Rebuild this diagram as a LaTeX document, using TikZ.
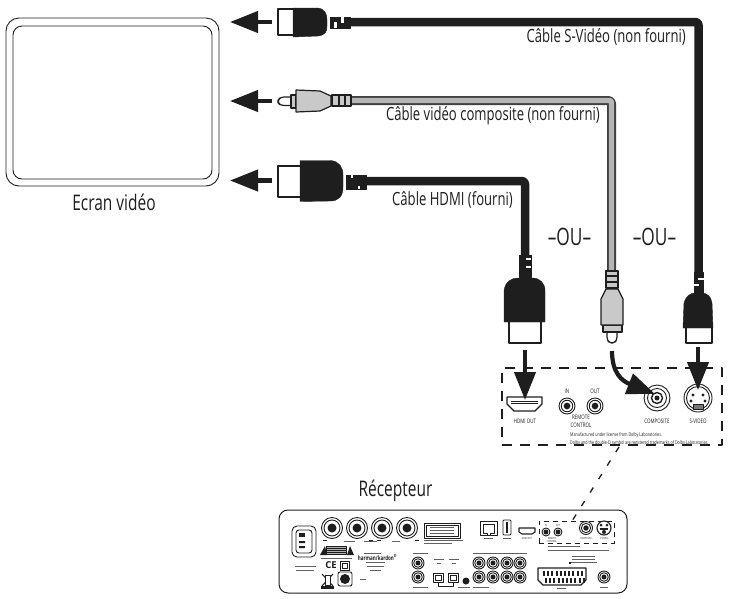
\documentclass[tikz,border=0pt]{standalone}
\usepackage{fontspec}
\setmainfont{Open Sans}
\newfontfamily\cond[FakeStretch=0.72]{Open Sans}
\usetikzlibrary{arrows.meta}
\definecolor{ink}{HTML}{1E1E1E}
\definecolor{plug}{HTML}{C9C9C9}
\tikzset{
  lbl/.style={font=\cond\fontsize{18.2}{20}\selectfont,text=ink,inner sep=0pt},
  lblbig/.style={font=\cond\fontsize{21.5}{23}\selectfont,text=ink,inner sep=0pt},
  oulbl/.style={font=\cond\fontsize{24}{26}\selectfont,text=ink,inner sep=0pt},
  tiny/.style={font=\cond\fontsize{6.2}{7}\selectfont,text=ink,inner sep=0pt},
  micro/.style={font=\cond\fontsize{2.8}{3}\selectfont,text=ink,inner sep=0pt},
  bigarrow/.style={line width=4.2pt,draw=ink,-{Triangle[length=28pt,width=21pt]}},
  blackcable/.style={line width=8.5pt,draw=ink,rounded corners=3pt},
  greyout/.style={line width=9pt,draw=ink!85,rounded corners=3pt},
  greyin/.style={line width=5.4pt,draw=plug!90!black,rounded corners=2pt},
  whitepart/.style={draw=ink,line width=1.2pt,fill=white},
  blackpart/.style={draw=ink,fill=ink},
  greypart/.style={draw=ink,line width=1.2pt,fill=plug},
  panel/.style={draw=ink,line width=0.9pt},
  jack/.style={draw=ink,line width=0.9pt,fill=white},
  fineline/.style={draw=ink!70,line width=0.4pt},
}
\newcommand{\ringjack}[3]{%
  \draw[jack] (#1,#2) circle (#3);
  \draw[jack] (#1,#2) circle (#3*0.72);
  \fill[ink] (#1,#2) circle (#3*0.42);
}
\begin{document}
\begin{tikzpicture}[x=1pt,y=-1pt,line join=round]
\useasboundingbox (0,0) rectangle (729,598);

% Screen
\node[draw=ink,line width=0.9pt,rounded corners=13pt,minimum width=213pt,minimum height=168pt,inner sep=0pt] (screen) at (112.5,102) {};
\node[draw=ink,line width=0.9pt,rounded corners=9pt,minimum width=199pt,minimum height=153pt,inner sep=0pt] (screenin) at (112.5,102.5) {};
\node[lblbig] (ecran) at (114,202) {Ecran vidéo};

% named ends
\coordinate (sL) at (349,22);
\coordinate (sC) at (698.5,22);
\coordinate (sD) at (698.5,274);
\coordinate (cL) at (350,100.5);
\coordinate (cC) at (611.5,100.5);
\coordinate (cD) at (611.5,272);
\coordinate (hL) at (365,181);
\coordinate (hC) at (525,181);
\coordinate (hD) at (525,257);

% Cables
\draw[blackcable] (sL) -- (sC) -- (sD);
\draw[greyout] (cL) -- (cC) -- (cD);
\draw[greyin] (cL) -- (cC) -- (cD);
\draw[blackcable] (hL) -- (hC) -- (hD);

% Arrows to the screen
\coordinate (a1s) at (272,22);  \coordinate (a1t) at (230,22);
\coordinate (a2s) at (272,101); \coordinate (a2t) at (230,101);
\coordinate (a3s) at (272,180.5); \coordinate (a3t) at (230,180.5);
\draw[bigarrow] (a1s) -- (a1t);
\draw[bigarrow] (a2s) -- (a2t);
\draw[bigarrow] (a3s) -- (a3t);

% S-Video plug, left
\draw[whitepart] (278,9) rectangle (294,35);
\draw[blackpart] (293,8) -- (318,8) .. controls (325,9) and (327,14) .. (327,20) -- (327,26) .. controls (327,32) and (325,35) .. (318,36) -- (293,37) -- cycle;
\draw[blackpart] (330,17) rectangle (350,28);
\fill[white] (334,22) rectangle (337,28);
\fill[white] (341,17) rectangle (344,23);

% RCA plug, left
\draw[whitepart,rounded corners=3pt] (291,97) -- (281,97) -- (278,100) -- (278,103) -- (281,105.5) -- (291,105.5);
\draw[greypart] (291,95) rectangle (296,108);
\draw[greypart] (296,90) -- (320,91) -- (331,96) -- (331,106) -- (320,111) -- (296,112) -- cycle;
\draw[greypart] (332,95) rectangle (351,106);
\draw[ink,line width=1.2pt] (339,95) -- (339,106) (345,95) -- (345,106);

% HDMI plug, left
\draw[whitepart] (278,166) rectangle (301,197);
\draw[blackpart] (300,160.5) -- (330,160.5) .. controls (339,161) and (343,167) .. (343,175) -- (343,187) .. controls (343,196) and (339,201) .. (330,201) -- (300,201.5) -- cycle;
\draw[blackpart] (346,175) rectangle (366,189);
\fill[white] (351,175) rectangle (353,178);
\fill[white] (358,186) rectangle (360,189);

% HDMI plug, vertical
\draw[whitepart] (509,321) rectangle (541,343);
\draw[blackpart] (504,322) -- (504,291) .. controls (505,282) and (511,278) .. (518,278) -- (532,278) .. controls (540,278) and (545,283) .. (545,291) -- (545,322) -- cycle;
\draw[blackpart] (519,255) rectangle (531,277);
\fill[white] (526,258) rectangle (531,260);
\fill[white] (526,266) rectangle (531,268);

% RCA plug, vertical
\draw[whitepart,rounded corners=3pt] (607,331) -- (607,340) -- (610,343) -- (614,343) -- (617,340) -- (617,331);
\draw[greypart] (603,325) rectangle (622,332);
\draw[greypart] (601,325) -- (601,299) -- (606,289) -- (618,289) -- (623,299) -- (623,325) -- cycle;
\draw[greypart] (606,271) rectangle (618,288);
\draw[ink,line width=1.2pt] (606,276) -- (618,276) (606,282) -- (618,282);

% S-Video plug, vertical
\draw[whitepart] (686,326) rectangle (712,343);
\draw[blackpart] (683,328) -- (684,303) .. controls (686,296) and (690,293) .. (696,293) -- (701,293) .. controls (707,293) and (711,296) .. (712,303) -- (713,328) -- cycle;
\draw[blackpart] (694,272) rectangle (703,293);
\fill[white] (698,278) rectangle (704,280);
\fill[white] (694,284) rectangle (699,286);

% Labels
\node[lbl,anchor=east] (ls) at (686,37) {Câble S-Vidéo (non fourni)};
\node[lbl,anchor=east] (lc) at (600,116) {Câble vidéo composite (non fourni)};
\node[lbl,anchor=east] (lh) at (513,200) {Câble HDMI (fourni)};
\node[oulbl] (ou1) at (569.5,237) {–OU–};
\node[oulbl] (ou2) at (654.5,237) {–OU–};

% Detail box
\node[draw=ink,line width=1.3pt,dash pattern=on 10pt off 8pt,minimum width=220pt,minimum height=77pt,inner sep=0pt] (detail) at (612,406.5) {};

% Port detail: HDMI
\draw[panel,line width=1.2pt] (507,397) -- (542,397) -- (542,404) -- (535,411) -- (514,411) -- (507,404) -- cycle;
\draw[panel,line width=0.7pt] (511,401) -- (538,401) (511,403) -- (538,403);
\node[tiny] (thdmi) at (525,421) {HDMI OUT};
% Remote
\ringjack{567}{406}{8}
\ringjack{595}{406}{8}
\node[tiny] (tin) at (567,391) {IN};
\node[tiny] (tout) at (595,391) {OUT};
\node[tiny,align=center] (trem) at (581,421) {REMOTE\\[1pt]CONTROL};
% Composite
\draw[jack] (657,398) circle (13);
\draw[jack] (657,398) circle (9.5);
\draw[jack,line width=1.4pt] (657,398) circle (5.5);
\fill[ink] (657,398) circle (2.5);
\node[tiny] (tcomp) at (657,421) {COMPOSITE};
% S-Video port
\draw[jack] (698,398) circle (14);
\draw[jack] (698,398) circle (11.5);
\foreach \dx/\dy in {-5/-3,5/-3,-7/3,7/3} \fill[ink] (698+\dx,398+\dy) circle (1.7);
\draw[panel,fill=ink!60] (693,404) rectangle (703,409);
\node[tiny] (tsv) at (698,421) {S-VIDEO};
% Licence text
\node[font=\cond\fontsize{5.1}{6}\selectfont,text=ink,inner sep=0pt,anchor=west] (lic1) at (570,435.5) {Manufactured under license from Dolby Laboratories.};
\node[font=\cond\fontsize{5.1}{6}\selectfont,text=ink,inner sep=0pt,anchor=west] (lic2) at (570,443) {Dolby and the double-D symbol are registered trademarks of Dolby Laboratories.};

% Port arrows
\coordinate (a4s) at (525,350); \coordinate (a4t) at (525,400);
\draw[bigarrow] (a4s) -- (a4t);
\coordinate (a5s) at (612,351); \coordinate (a5t) at (655,394);
\draw[bigarrow] (a5s) .. controls (612,373) and (622,381) .. (a5t);
\coordinate (a6s) at (698,347); \coordinate (a6t) at (698,390);
\draw[bigarrow] (a6s) -- (a6t);

% Receiver
\node[lblbig] (rec) at (395.5,491) {Récepteur};
\node[draw=ink,line width=1pt,rounded corners=9pt,minimum width=348pt,minimum height=83pt,inner sep=0pt] (rear) at (453,551.5) {};
% leader
\node[draw=ink,line width=0.9pt,dash pattern=on 5pt off 4pt,minimum width=75pt,minimum height=22pt,inner sep=0pt] (smallbox) at (576.5,532) {};
\coordinate (lead) at (572,521);
\coordinate (leadtop) at (619,447);
\draw[draw=ink,line width=1.3pt,dash pattern=on 6pt off 10pt] (leadtop) -- (lead);

% Power inlet
\draw[panel,rounded corners=5pt] (292,526) rectangle (316,557);
\draw[panel,rounded corners=3pt] (296,530) rectangle (312,553);
\fill[ink] (299,533) rectangle (305,537);
\fill[ink] (299,541) rectangle (305,543) (299,546) rectangle (305,548);
% Speaker posts
\foreach \x in {332,357,382,407} {
  \draw[jack] (\x,528) circle (10.5);
  \draw[jack] (\x,528) circle (8);
  \fill[ink] (\x,528) circle (4.5);
}
\foreach \x in {325,371,379,417} \draw[ink,line width=0.6pt] (\x-2,540) -- (\x+2,540);
\draw[fineline] (344,541) -- (355,541) (364,541) -- (377,541) (392,541) -- (400,541);
% Display label
\draw[panel] (424,523) rectangle (460,538);
\draw[panel,line width=0.5pt] (426,525) rectangle (458,536);
\draw[fineline] (430,527) -- (454,527) (430,530) -- (454,530) (430,533) -- (454,533);
\draw[fineline] (424,540) -- (463,540) (424,543) -- (452,543);
% Ethernet & USB
\draw[panel] (480,521) rectangle (497,535);
\draw[panel,line width=0.6pt] (483,524) -- (494,524) -- (494,533) -- (490,533) -- (490,535) -- (487,535) -- (487,533) -- (483,533) -- cycle;
\draw[fineline] (484,538.5) -- (493,538.5);
\draw[panel,rounded corners=1pt] (503,520) rectangle (511,535);
\fill[ink] (506,522) rectangle (508,533);
\draw[fineline] (503,538.5) -- (511,538.5);
% rear HDMI
\draw[panel,line width=1.1pt] (519,528) -- (535,528) -- (535,532) -- (532,534) -- (522,534) -- (519,532) -- cycle;
\node[micro] (t1) at (527,538.5) {HDMI OUT};
% small box contents
\foreach \x in {546,558} {
  \draw[jack] (\x,532) circle (4);
  \fill[ink] (\x,532) circle (2.5);
}
\node[micro] (t2) at (546,525) {IN};
\node[micro] (t3) at (558,525) {OUT};
\node[micro,align=center] (t4) at (552,539.5) {REMOTE\\CONTROL};
\ringjack{586}{528}{6.5}
\node[micro] (t5) at (586,538.5) {COMPOSITE};
\draw[jack,line width=1.1pt] (604,528) circle (7);
\fill[ink] (601,525) circle (1.5) (607,525) circle (1.5) (604,532) circle (2);
\fill[ink] (600,528) rectangle (608,530);
\node[micro] (t6) at (604,538.5) {S-VIDEO};
\draw[fineline] (548,546) -- (580,546);
\draw[fineline] (548,550) -- (609,550);
% Scart
\draw[panel,line width=1.2pt] (538,568) -- (586,568) -- (586,580) -- (581,585) -- (543,585) -- (538,580) -- cycle;
\foreach \i in {0,...,9} {
  \fill[ink] (543+4.2*\i,570.5) rectangle +(2,5);
  \fill[ink] (545+4.2*\i,577.5) rectangle +(2,5);
}
\draw[fineline] (557,588.5) -- (566,588.5);
\draw[fineline] (572,556) -- (595,556) (572,559) -- (595,559) (569,562) -- (597,562);
\fill[ink] (569,562) rectangle (571,564);
% F connector
\ringjack{604}{577}{6}
\draw[fineline] (600,587) -- (608,587);
% RCA grid
\foreach \x in {479,493,507,520} \foreach \y in {563,577} {\ringjack{\x}{\y}{6}}
\draw[fineline] (473,553) -- (527,553) (473,587) -- (489,587);
% Optical & side
\ringjack{418}{563}{6}
\ringjack{418}{577}{6}
\draw[fineline] (413,553) -- (428,553) (413,587) -- (428,587);
\foreach \x in {433,448} {
  \draw[panel] (\x,573) rectangle (\x+10,582);
  \draw[panel,line width=0.5pt] (\x+2,575) rectangle (\x+8,580);
}
\draw[fineline] (434,559) -- (444,559) (449,559) -- (459,559) (437,563) -- (441,563) (452,563) -- (456,563);
\draw[panel,line width=0.5pt] (438,582) -- (438,586) -- (453,586) -- (453,582);
\fill[ink] (466,581) circle (3.5);
\draw[fineline] (458,587) -- (470,587);
% Left lower symbols
\fill[ink] (320,555) -- (325,546) -- (327,555) -- cycle;
\fill[ink] (347,555) -- (350,546) -- (354,555) -- cycle;
\draw[panel,fill=ink!35] (326,546) rectangle (346,554);
\draw[ink,line width=0.6pt] (326,548) -- (346,548) (326,550) -- (346,550) (326,552) -- (346,552);
\draw[fineline] (321,558) -- (352,558);
\node[font=\bfseries\fontsize{9.5}{10}\selectfont,text=ink,inner sep=0pt] (ce) at (331,565.5) {CE};
\draw[panel] (340,561) rectangle (349,570);
\draw[panel,line width=0.5pt] (342,563) rectangle (347,568);
\draw[ink,line width=1pt] (322,574) -- (333,586) (333,574) -- (322,586);
\draw[panel,fill=white,line width=0.7pt] (325,575) rectangle (330,585);
\fill[ink] (321,586) rectangle (334,589);
\draw[panel,rounded corners=2pt] (338,572) rectangle (352,586);
\fill[ink] (345,579) circle (5);
\draw[fineline] (295,566) -- (316,566) (296,570) -- (314,570);
% Brand
\node[font=\cond\bfseries\fontsize{6.3}{7}\selectfont,text=ink,inner sep=0pt] (hk) at (377.5,557.5) {harman/kardon\textsuperscript{®}};
\draw[fineline] (364,553) -- (381,553);
\draw[fineline] (366,562) -- (385,562) (367,566) -- (384,566) (370,570) -- (381,570) (360,579) -- (366,579);
\end{tikzpicture}
\end{document}
